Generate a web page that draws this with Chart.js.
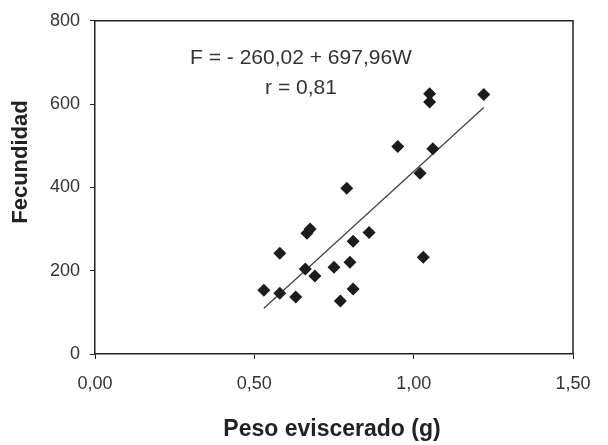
<!DOCTYPE html>
<html>
<head>
<meta charset="utf-8">
<script src="https://cdn.jsdelivr.net/npm/chart.js@4.4.1/dist/chart.umd.min.js"></script>
<style>
  html, body { margin: 0; padding: 0; background: #fff; }
  #wrap { width: 608px; height: 445px; }
</style>
</head>
<body>
<div id="wrap"><canvas id="grafico" width="608" height="445"></canvas></div>
<script>
// Datos
const pesoW = [0.53, 0.58, 0.58, 0.63, 0.66, 0.665, 0.675, 0.69, 0.75, 0.77, 0.80, 0.81, 0.81, 0.86, 1.03, 0.79, 0.95, 1.02, 1.06, 1.05, 1.05, 1.22];
const fecundidad = [153, 242, 146, 137, 204, 290, 300, 187, 208, 127, 220, 156, 271, 292, 232, 398, 498, 434, 493, 605, 625, 623];

// Recta de regresión (extremos leídos)
const rectaW = [0.53, 1.22];
const rectaF = [110, 592];

const ticksX = [0, 0.5, 1.0, 1.5];
const ticksY = [0, 200, 400, 600, 800];

const tituloX = 'Peso eviscerado (g)';
const tituloY = 'Fecundidad';
const ecuacion = 'F = - 260,02 + 697,96W';
const correlacion = 'r = 0,81';

const coma = v => v.toFixed(2).replace('.', ',');

const marcoYTextos = {
    id: 'marcoYTextos',
    afterDraw(chart) {
        const { ctx, chartArea: a } = chart;
        ctx.save();
        // marco superior y derecho
        ctx.strokeStyle = '#222';
        ctx.lineWidth = 1.5;
        ctx.beginPath();
        ctx.moveTo(a.left, a.top);
        ctx.lineTo(a.right, a.top);
        ctx.lineTo(a.right, a.bottom);
        ctx.stroke();

        ctx.fillStyle = '#333';
        ctx.textAlign = 'center';
        ctx.textBaseline = 'middle';
        ctx.font = '21px "Liberation Sans", Arial, sans-serif';
        ctx.fillText(ecuacion, 301, 58);
        ctx.fillText(correlacion, 301, 88);

        ctx.fillStyle = '#222';
        ctx.font = 'bold 23px "Liberation Sans", Arial, sans-serif';
        ctx.fillText(tituloX, 332, 430);

        ctx.font = 'bold 22px "Liberation Sans", Arial, sans-serif';
        ctx.translate(21, 162);
        ctx.rotate(-Math.PI / 2);
        ctx.fillText(tituloY, 0, 0);
        ctx.restore();
    }
};

new Chart(document.getElementById('grafico'), {
    type: 'scatter',
    data: {
        datasets: [
            {
                data: pesoW.map((w, i) => ({ x: w, y: fecundidad[i] })),
                pointStyle: 'rectRot',
                pointRadius: 6.5,
                backgroundColor: '#1c1c1c',
                borderColor: '#1c1c1c',
                borderWidth: 0
            },
            {
                data: rectaW.map((w, i) => ({ x: w, y: rectaF[i] })),
                showLine: true,
                pointRadius: 0,
                borderColor: '#444',
                borderWidth: 1.3
            }
        ]
    },
    options: {
        responsive: false,
        animation: false,
        layout: { padding: { top: 20, right: 35, left: 0, bottom: 0 } },
        plugins: { legend: { display: false }, tooltip: { enabled: false } },
        scales: {
            x: {
                type: 'linear', min: 0, max: 1.5,
                afterBuildTicks: s => { s.ticks = ticksX.map(v => ({ value: v })); },
                afterFit: s => { s.height = 91; },
                border: { color: '#222', width: 1.5 },
                grid: { drawOnChartArea: false, drawTicks: true, tickLength: 5, color: '#222' },
                ticks: { color: '#333', padding: 14, font: { family: '"Liberation Sans", Arial, sans-serif', size: 18 }, callback: v => coma(v) }
            },
            y: {
                type: 'linear', min: 0, max: 800,
                afterBuildTicks: s => { s.ticks = ticksY.map(v => ({ value: v })); },
                afterFit: s => { s.width = 95; },
                border: { color: '#222', width: 1.5 },
                grid: { drawOnChartArea: false, drawTicks: true, tickLength: 5, color: '#222' },
                ticks: { color: '#333', padding: 10, font: { family: '"Liberation Sans", Arial, sans-serif', size: 18 } }
            }
        }
    },
    plugins: [marcoYTextos]
});
</script>
</body>
</html>
